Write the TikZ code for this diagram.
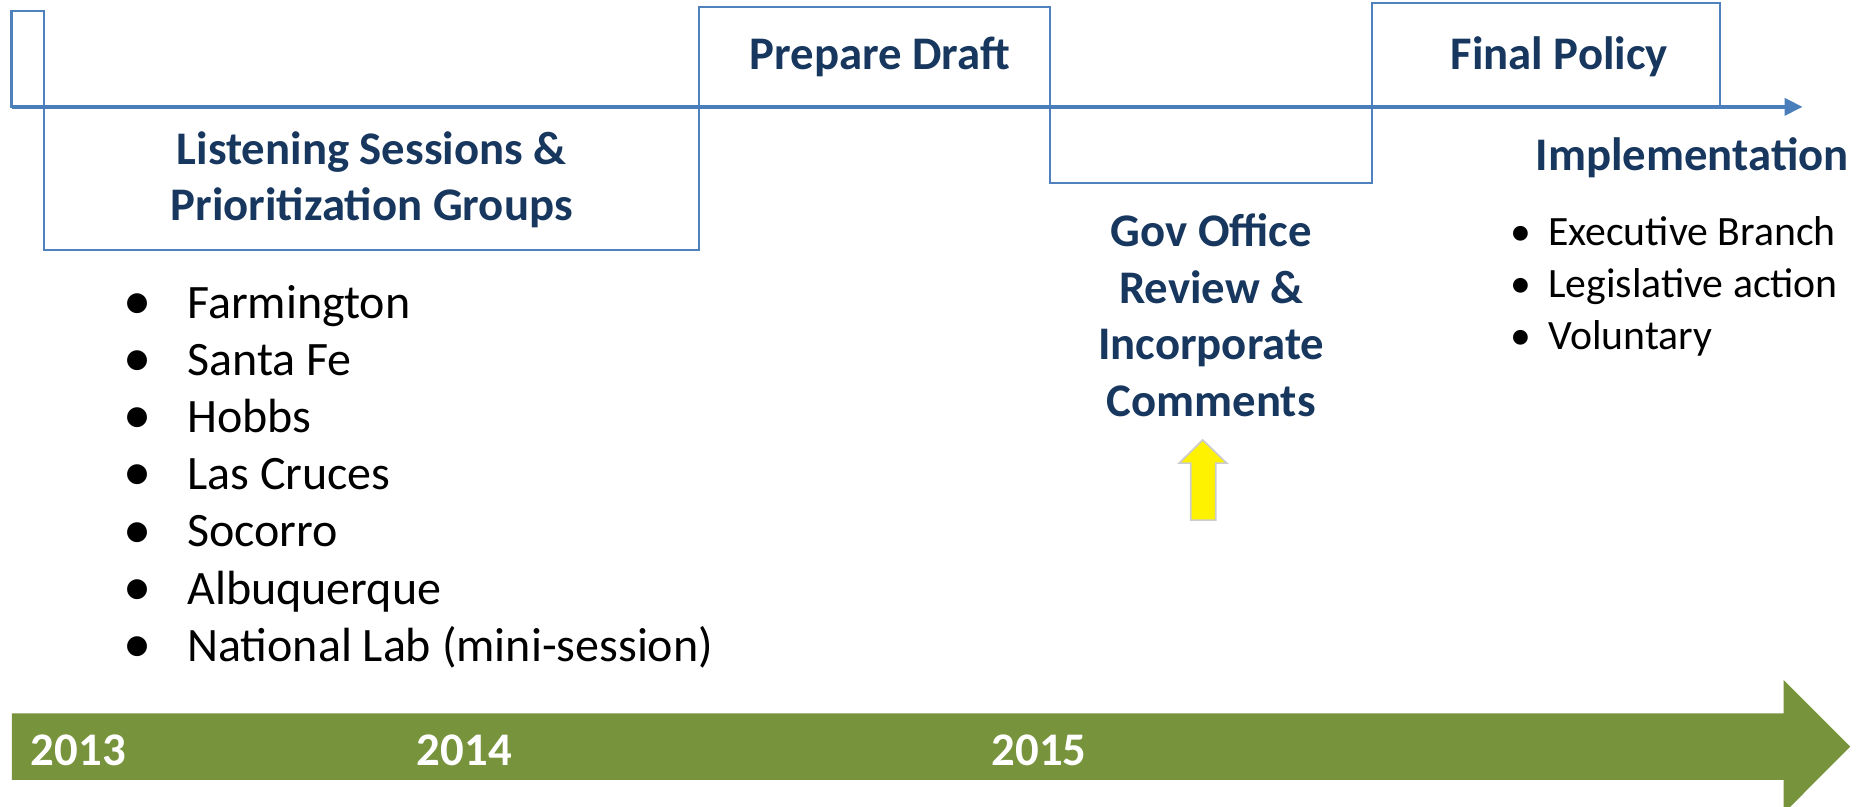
\documentclass[tikz,border=0pt]{standalone}
\usepackage{fontspec}
\setmainfont{Carlito}
\usetikzlibrary{arrows.meta}

\definecolor{navy}{RGB}{23,55,94}
\definecolor{axisblue}{RGB}{74,126,187}
\definecolor{boxblue}{RGB}{79,129,189}
\definecolor{olive}{RGB}{119,147,60}

\tikzset{
	phase/.style={draw=boxblue, line width=0.5pt},
	head/.style={font=\fontsize{11.2}{13.6}\selectfont\bfseries, text=navy, align=center, inner sep=0pt},
	item/.style={font=\fontsize{11.5}{13.6}\selectfont, anchor=base west, inner sep=0pt},
	subitem/.style={font=\fontsize{10}{12.4}\selectfont, anchor=base west, inner sep=0pt},
	year/.style={font=\fontsize{11.2}{13.6}\selectfont\bfseries, text=white, inner sep=0pt}
}

\begin{document}
\begin{tikzpicture}
		\useasboundingbox (0,0) rectangle (15.68,6.79);
		\coordinate (s) at (0.097,5.89);
		\coordinate (e) at (15.18,5.89);
		
		% phases along the time line
		\draw[phase] (s) rectangle (0.367,6.70);
		\draw[phase] (0.367,5.89) rectangle (5.89,4.685);
		\draw[phase] (5.89,5.89) rectangle (8.84,6.728);
		\draw[phase] (8.84,5.89) rectangle (11.55,5.252);
		\draw[phase] (11.55,5.89) rectangle (14.485,6.768);
		
		\draw[axisblue, line width=1pt, -{Triangle[length=4.3pt, width=4pt]}] (s) -- (e);
		
		\node[head] (listen) at (3.13,5.275) {Listening Sessions \&\\Prioritization Groups};
		\node[head] (draft) at (7.41,6.31) {Prepare Draft};
		\node[head] (final) at (13.13,6.31) {Final Policy};
		\node[head] (impl) at (14.25,5.46) {Implementation};
		\node[head] (gov) at (10.2,4.135) {Gov Office\\Review \&\\Incorporate\\Comments};
		
		\foreach \town [count=\i] in {Farmington, Santa Fe, Hobbs, Las Cruces, Socorro, Albuquerque, National Lab (mini-session)} {
			\node[item] (town\i) at (1.57,{4.593-0.4817*\i}) {\town};
			\node[item, font=\fontsize{13.5}{13.6}\selectfont] (tdot\i) at (1.03,{4.583-0.4817*\i}) {\textbullet};
		}
		
		\foreach \act [count=\i] in {Executive Branch, Legislative action, Voluntary} {
			\node[subitem] (act\i) at (13.03,{5.155-0.435*\i}) {\act};
			\node[subitem] (adot\i) at (12.71,{5.155-0.435*\i}) {\textbullet};
		}
		
		% yellow marker
		\draw[draw=gray!40, fill=yellow] (10.027,2.41) -- (10.027,2.89) -- (9.93,2.89) -- (10.128,3.085) -- (10.33,2.89) -- (10.238,2.89) -- (10.238,2.41) -- cycle;
		
		% years
		\fill[olive] (0.10,0.222) -- (15.02,0.222) -- (15.02,-0.06) -- (15.58,0.5025) -- (15.02,1.064) -- (15.02,0.783) -- (0.10,0.783) -- cycle;
		\node[year] (y13) at (0.66,0.47) {2013};
		\node[year] (y14) at (3.91,0.47) {2014};
		\node[year] (y15) at (8.75,0.47) {2015};
	\end{tikzpicture}
\end{document}
